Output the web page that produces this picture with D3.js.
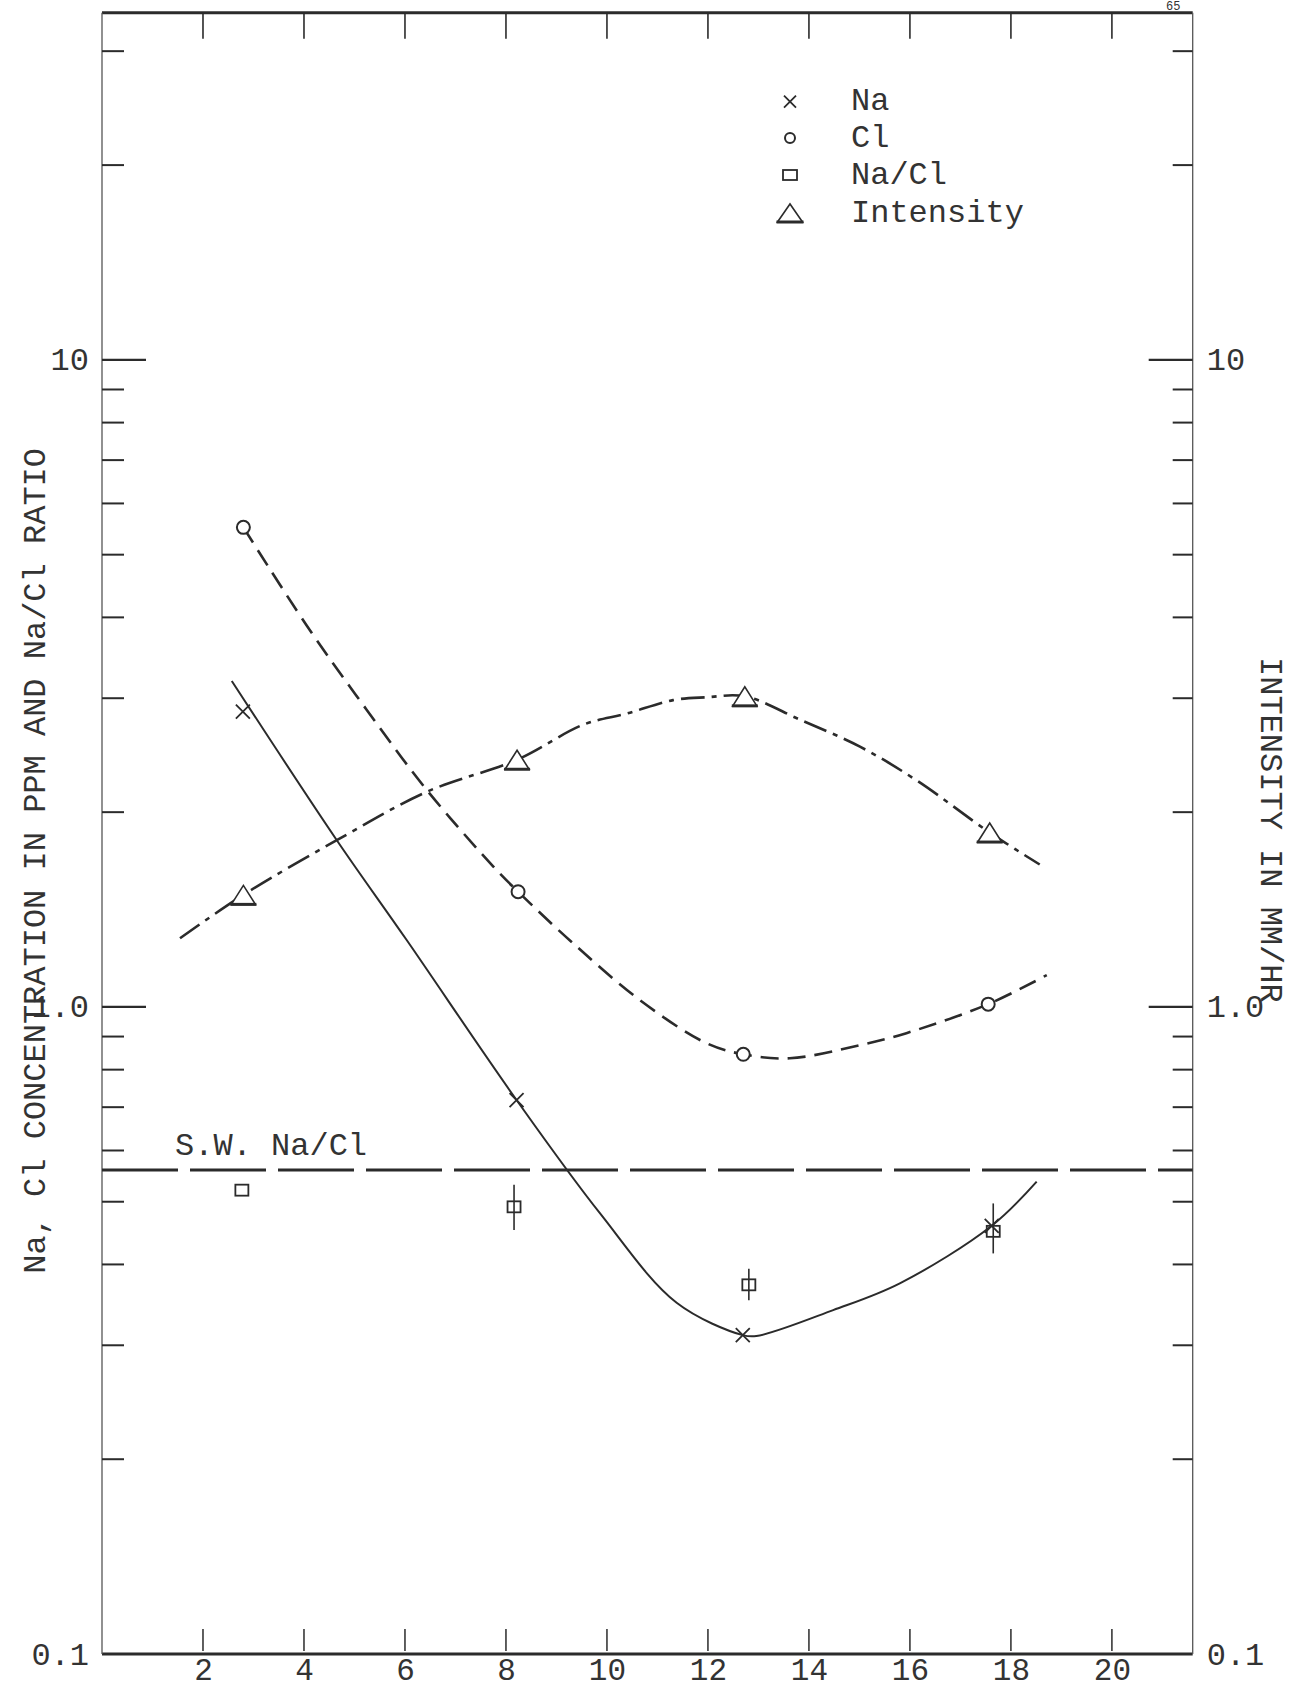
<!DOCTYPE html>
<html>
<head>
<meta charset="utf-8">
<script src="https://cdn.jsdelivr.net/npm/d3@7"></script>
<style>
  html, body { margin: 0; padding: 0; background: #ffffff; }
  svg { display: block; }
  text { font-family: "Liberation Mono", "DejaVu Sans Mono", monospace; fill: #333; }
</style>
</head>
<body>
<svg id="chart" width="1292" height="1691"></svg>
<script>
// ---------- data ----------
const xTickValues = [2, 4, 6, 8, 10, 12, 14, 16, 18, 20];
const yMajorTicks = [0.1, 1, 10];
const yMajorLabels = ["0.1", "1.0", "10"];
const yMinorTicks = [0.2, 0.3, 0.4, 0.5, 0.6, 0.7, 0.8, 0.9, 2, 3, 4, 5, 6, 7, 8, 9, 20, 30];

// Na (ppm) - x marks, solid curve
const naX = [2.79, 8.21, 12.69, 17.62];
const naV = [2.86, 0.718, 0.311, 0.459];
// Cl (ppm) - circles, dashed curve
const clX = [2.80, 8.24, 12.70, 17.55];
const clV = [5.51, 1.507, 0.845, 1.01];
// Na/Cl ratio - squares with error bars
const ratioX = [2.77, 8.16, 12.81, 17.65];
const ratioV = [0.521, 0.491, 0.372, 0.45];
const ratioLo = [null, 0.452, 0.352, 0.416];
const ratioHi = [null, 0.531, 0.394, 0.497];
// Intensity (mm/hr) - triangles, dash-dot curve (right axis)
const intX = [2.80, 8.22, 12.73, 17.58];
const intV = [1.49, 2.41, 3.02, 1.86];
// sea water Na/Cl reference
const swRatio = 0.56;

// hand-drawn curves
const naCurveX = [2.57, 4.65, 6.03, 8.21, 9.86, 11.38, 12.69, 12.96, 14.48, 15.8, 17.62, 18.51];
const naCurveV = [3.19, 1.81, 1.27, 0.718, 0.480, 0.349, 0.311, 0.310, 0.340, 0.374, 0.459, 0.537];
const clCurveX = [2.80, 4.05, 5.24, 6.43, 7.75, 8.24, 9.33, 10.65, 11.97, 12.70, 13.62, 15.01, 15.93, 17.55, 18.71];
const clCurveV = [5.51, 3.89, 2.88, 2.165, 1.648, 1.507, 1.254, 1.025, 0.879, 0.845, 0.833, 0.873, 0.911, 1.01, 1.12];
const intCurveX = [1.545, 2.80, 4.65, 6.43, 8.22, 9.53, 10.39, 11.31, 11.97, 12.73, 13.82, 15.01, 16.13, 17.58, 18.57];
const intCurveV = [1.277, 1.49, 1.81, 2.15, 2.41, 2.73, 2.84, 2.98, 3.01, 3.02, 2.78, 2.525, 2.24, 1.86, 1.66];

const legendItems = ["Na", "Cl", "Na/Cl", "Intensity"];
const leftTitle = "Na, Cl CONCENTRATION IN PPM AND Na/Cl RATIO";
const rightTitle = "INTENSITY IN MM/HR";
const swLabel = "S.W. Na/Cl";
const pageNumber = "65";

// ---------- layout ----------
const ink = "#2b2b2b";
const pL = 102, pR = 1192.7, pT = 12.7, pB = 1654;
const svg = d3.select("#chart");

const x = d3.scaleLinear().domain([0, 21.6]).range([pL, pR]);
const y = d3.scaleLog().domain([0.1, 34.4]).range([pB, pT]);   // left axis
const y2 = d3.scaleLog().domain([0.1, 34.4]).range([pB, pT]);  // right axis (intensity)

// frame
svg.append("line").attr("x1", pL).attr("x2", pR).attr("y1", pT).attr("y2", pT)
  .attr("stroke", ink).attr("stroke-width", 3);
svg.append("line").attr("x1", pL).attr("x2", pR).attr("y1", pB).attr("y2", pB)
  .attr("stroke", ink).attr("stroke-width", 3);
svg.append("line").attr("x1", pL).attr("x2", pL).attr("y1", pT).attr("y2", pB)
  .attr("stroke", "#555").attr("stroke-width", 1.3);
svg.append("line").attr("x1", pR).attr("x2", pR).attr("y1", pT).attr("y2", pB)
  .attr("stroke", "#555").attr("stroke-width", 1.3);

// bottom axis labels
const bottomAxis = d3.axisBottom(x).tickValues(xTickValues).tickSize(0).tickPadding(0).tickFormat(d3.format("d"));
const gb = svg.append("g").attr("transform", `translate(0,${pB})`).call(bottomAxis);
gb.select(".domain").remove();
gb.selectAll("text").attr("font-size", 31).attr("dy", 0).attr("y", 26)
  .style("font-family", "'Liberation Mono', monospace").attr("fill", "#3a3a3a");
svg.append("g").selectAll("line").data(xTickValues).join("line")
  .attr("x1", d => x(d)).attr("x2", d => x(d)).attr("y1", pB - 25).attr("y2", pB - 3)
  .attr("stroke", ink).attr("stroke-width", 1.5);
// top axis ticks
svg.append("g").selectAll("line").data(xTickValues).join("line")
  .attr("x1", d => x(d)).attr("x2", d => x(d)).attr("y1", pT).attr("y2", pT + 26)
  .attr("stroke", ink).attr("stroke-width", 1.6);

// left axis ticks
const gl = svg.append("g");
gl.selectAll("line.minor").data(yMinorTicks).join("line").attr("class", "minor")
  .attr("x1", pL).attr("x2", pL + 22).attr("y1", d => y(d)).attr("y2", d => y(d))
  .attr("stroke", ink).attr("stroke-width", 2);
gl.selectAll("line.major").data(yMajorTicks.filter(d => d > 0.1)).join("line").attr("class", "major")
  .attr("x1", pL).attr("x2", pL + 44).attr("y1", d => y(d)).attr("y2", d => y(d))
  .attr("stroke", ink).attr("stroke-width", 2.2);
gl.selectAll("text").data(yMajorTicks).join("text")
  .attr("x", pL - 13).attr("y", d => y(d) + 2).attr("text-anchor", "end")
  .attr("dominant-baseline", "central").attr("font-size", 32).attr("fill", "#3a3a3a")
  .text((d, i) => yMajorLabels[i]);

// right axis ticks
const gr = svg.append("g");
gr.selectAll("line.minor").data(yMinorTicks).join("line").attr("class", "minor")
  .attr("x1", pR - 20).attr("x2", pR).attr("y1", d => y2(d)).attr("y2", d => y2(d))
  .attr("stroke", ink).attr("stroke-width", 2);
gr.selectAll("line.major").data(yMajorTicks.filter(d => d > 0.1)).join("line").attr("class", "major")
  .attr("x1", pR - 44).attr("x2", pR).attr("y1", d => y2(d)).attr("y2", d => y2(d))
  .attr("stroke", ink).attr("stroke-width", 2.2);
gr.selectAll("text").data(yMajorTicks).join("text")
  .attr("x", pR + 14).attr("y", d => y2(d) + 2).attr("text-anchor", "start")
  .attr("dominant-baseline", "central").attr("font-size", 32).attr("fill", "#3a3a3a")
  .text((d, i) => yMajorLabels[i]);

// axis titles
svg.append("text").attr("transform", `translate(36,448) rotate(-90)`)
  .attr("text-anchor", "end").attr("dominant-baseline", "central")
  .attr("font-size", 32).attr("fill", "#3a3a3a").text(leftTitle);
svg.append("text").attr("transform", `translate(1269,657) rotate(90)`)
  .attr("text-anchor", "start").attr("dominant-baseline", "central")
  .attr("font-size", 32).attr("fill", "#3a3a3a").text(rightTitle);

// page number (top right, kept fully visible)
svg.append("text").attr("x", 1166).attr("y", 10).attr("font-size", 12).attr("fill", "#555").text(pageNumber);

// sea water line
svg.append("line").attr("x1", pL).attr("x2", pR).attr("y1", y(swRatio)).attr("y2", y(swRatio))
  .attr("stroke", ink).attr("stroke-width", 3).attr("stroke-dasharray", "76,12");
svg.append("text").attr("x", 175).attr("y", y(swRatio) - 15).attr("font-size", 32)
  .attr("fill", "#333").text(swLabel);

// curves
const line = (sx, sy) => d3.line().x(d => sx(d[0])).y(d => sy(d[1])).curve(d3.curveCatmullRom.alpha(0.5));
const naCurve = naCurveX.map((v, i) => [v, naCurveV[i]]);
const clCurve = clCurveX.map((v, i) => [v, clCurveV[i]]);
const intCurve = intCurveX.map((v, i) => [v, intCurveV[i]]);

svg.append("path").attr("d", line(x, y)(naCurve)).attr("fill", "none")
  .attr("stroke", ink).attr("stroke-width", 2);
svg.append("path").attr("d", line(x, y)(clCurve)).attr("fill", "none")
  .attr("stroke", ink).attr("stroke-width", 2.6).attr("stroke-dasharray", "18,9");
svg.append("path").attr("d", line(x, y2)(intCurve)).attr("fill", "none")
  .attr("stroke", ink).attr("stroke-width", 2.6).attr("stroke-dasharray", "24,7,5,7");

// marker helpers
function drawX(g, cx, cy, s) {
  g.append("path").attr("d", `M${cx - s},${cy - s}L${cx + s},${cy + s}M${cx - s},${cy + s}L${cx + s},${cy - s}`)
    .attr("stroke", ink).attr("stroke-width", 1.8).attr("fill", "none");
}
function drawCircle(g, cx, cy, r) {
  g.append("circle").attr("cx", cx).attr("cy", cy).attr("r", r)
    .attr("stroke", ink).attr("stroke-width", 2).attr("fill", "#fff");
}
function drawSquare(g, cx, cy, w, h) {
  g.append("rect").attr("x", cx - w / 2).attr("y", cy - h / 2).attr("width", w).attr("height", h)
    .attr("stroke", ink).attr("stroke-width", 1.8).attr("fill", "none");
}
function drawTriangle(g, cx, cy, w, h) {
  g.append("path").attr("d", `M${cx - w / 2},${cy + h / 2}L${cx},${cy - h / 2}L${cx + w / 2},${cy + h / 2}Z`)
    .attr("stroke", ink).attr("stroke-width", 1.6).attr("fill", "#fff");
  g.append("line").attr("x1", cx - w / 2 - 1).attr("x2", cx + w / 2 + 1).attr("y1", cy + h / 2).attr("y2", cy + h / 2)
    .attr("stroke", ink).attr("stroke-width", 3);
}

const gm = svg.append("g");
ratioX.forEach((xv, i) => {
  if (ratioLo[i] != null) {
    gm.append("line").attr("x1", x(xv)).attr("x2", x(xv)).attr("y1", y(ratioHi[i])).attr("y2", y(ratioLo[i]))
      .attr("stroke", ink).attr("stroke-width", 1.6);
  }
});
ratioX.forEach((xv, i) => drawSquare(gm, x(xv), y(ratioV[i]), 13, 11));
naX.forEach((xv, i) => drawX(gm, x(xv), y(naV[i]), 7));
clX.forEach((xv, i) => drawCircle(gm, x(xv), y(clV[i]), 6.5));
intX.forEach((xv, i) => drawTriangle(gm, x(xv), y2(intV[i]), 24, 19));

// legend
const lg = svg.append("g");
const legendY = [101.7, 138, 175, 213];
const mx = 790, tx = 851;
drawX(lg, mx, legendY[0], 6);
drawCircle(lg, mx, legendY[1], 5);
drawSquare(lg, mx, legendY[2], 14, 10);
drawTriangle(lg, mx, legendY[3], 25, 18);
lg.selectAll("text").data(legendItems).join("text")
  .attr("x", tx).attr("y", (d, i) => legendY[i]).attr("dominant-baseline", "central")
  .attr("font-size", 32).attr("fill", "#333").text(d => d);
</script>
</body>
</html>
